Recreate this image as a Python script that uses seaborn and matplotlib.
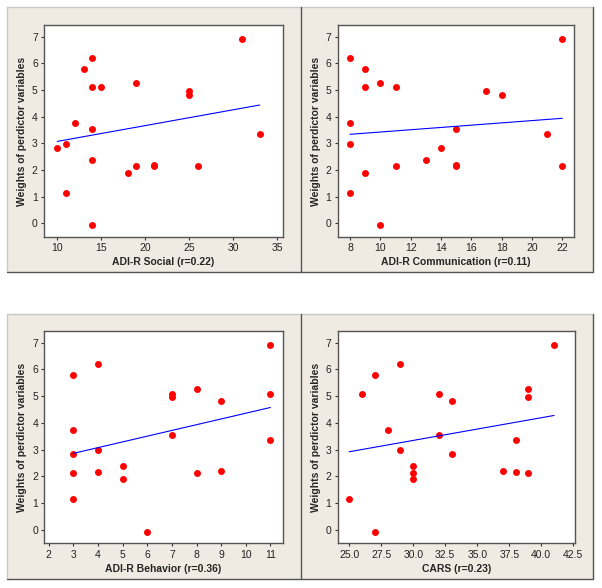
import matplotlib
matplotlib.use('Agg')
import matplotlib.pyplot as plt
import seaborn as sns
import pandas as pd
from matplotlib.patches import Rectangle
from matplotlib.lines import Line2D

# weights of predictor variables (same subjects in every panel)
weights = [6.92, 6.22, 5.80, 5.28, 5.10, 5.10, 4.97, 4.82, 3.75, 3.55, 3.37,
           2.97, 2.82, 2.37, 2.20, 2.17, 2.14, 2.14, 1.88, 1.15, -0.08]
adi_social = [31, 14, 13, 19, 14, 15, 25, 25, 12, 14, 33,
              11, 10, 14, 21, 19, 21, 26, 18, 11, 14]
adi_comm = [22, 8, 9, 10, 9, 11, 17, 18, 8, 15, 21,
            8, 14, 13, 15, 15, 11, 22, 9, 8, 10]
adi_behav = [11, 4, 3, 8, 7, 11, 7, 9, 3, 7, 11,
             4, 3, 5, 9, 4, 3, 8, 5, 3, 6]
cars = [41, 29, 27, 39, 26, 32, 39, 33, 28, 32, 38,
        29, 33, 30, 37, 38, 30, 39, 30, 25, 27]

df = pd.DataFrame({'Weight': weights, 'Social': adi_social, 'Comm': adi_comm,
                   'Behavior': adi_behav, 'CARS': cars})

panels = [
    ('Social', 'ADI-R Social (r=0.22)', [0.0731, 0.597, 0.397, 0.3605],
     (8.49, 35.65), [10, 15, 20, 25, 30, 35], '{:.0f}'),
    ('Comm', 'ADI-R Communication (r=0.11)', [0.561, 0.597, 0.3925, 0.3605],
     (7.19, 22.77), [8, 10, 12, 14, 16, 18, 20, 22], '{:.0f}'),
    ('Behavior', 'ADI-R Behavior (r=0.36)', [0.0736, 0.076, 0.396, 0.361],
     (1.82, 11.5), [2, 3, 4, 5, 6, 7, 8, 9, 10, 11], '{:.0f}'),
    ('CARS', 'CARS (r=0.23)', [0.561, 0.076, 0.394, 0.361],
     (24.1, 42.63), [25.0, 27.5, 30.0, 32.5, 35.0, 37.5, 40.0, 42.5], '{:.1f}'),
]

sns.set_style('white')
plt.rcParams['font.family'] = ['Liberation Sans', 'DejaVu Sans']

fig = plt.figure(figsize=(6.02, 5.88), dpi=100)
fig.patch.set_facecolor('white')

# beige panel bands like the Minitab layout
beige = '#EFEBE3'
for y0, y1 in [(7, 272), (314, 579)]:
    fy0 = (588 - y1) / 588
    h = (y1 - y0) / 588
    fig.patches.append(Rectangle((7 / 602, fy0), 586 / 602, h,
                                 transform=fig.transFigure, facecolor=beige,
                                 edgecolor='none', zorder=-5))
    # light top/left, dark bottom/right edges
    fig.lines.append(Line2D([7 / 602, 593 / 602], [fy0 + h, fy0 + h],
                            transform=fig.transFigure, color='#c8c8c8', lw=1))
    fig.lines.append(Line2D([7 / 602, 7 / 602], [fy0, fy0 + h],
                            transform=fig.transFigure, color='#c8c8c8', lw=1))
    fig.lines.append(Line2D([7 / 602, 593 / 602], [fy0, fy0],
                            transform=fig.transFigure, color='#555555', lw=1))
    fig.lines.append(Line2D([593 / 602, 593 / 602], [fy0, fy0 + h],
                            transform=fig.transFigure, color='#555555', lw=1))
    fig.lines.append(Line2D([300.5 / 602, 300.5 / 602], [fy0, fy0 + h],
                            transform=fig.transFigure, color='#555555', lw=1))

for col, xlabel, rect, xlim, xticks, fmt in panels:
    ax = fig.add_axes(rect)
    ax.set_facecolor('white')
    sns.regplot(data=df, x=col, y='Weight', ax=ax, ci=None,
                scatter_kws={'color': '#FF0000', 's': 25, 'linewidths': 0, 'alpha': 1},
                line_kws={'color': '#0000FF', 'lw': 0.8})
    ax.set_xlim(*xlim)
    ax.set_ylim(-0.51, 7.44)
    ax.set_xticks(xticks)
    ax.set_xticklabels([fmt.format(t) for t in xticks])
    ax.set_yticks(range(0, 8))
    ax.tick_params(axis='both', direction='out', length=2.5, width=0.8,
                   color='#333333', labelsize=7.5, pad=2, labelcolor='#222222',
                   bottom=True, left=True)
    for s in ax.spines.values():
        s.set_color('#555555')
        s.set_linewidth(1)
    ax.set_xlabel(xlabel, fontsize=7.5, fontweight='bold', labelpad=3)
    ax.set_ylabel('Weights of perdictor variables', fontsize=7.5,
                  fontweight='bold', labelpad=3.5)

fig.savefig('out.png', dpi=100, facecolor='white')
